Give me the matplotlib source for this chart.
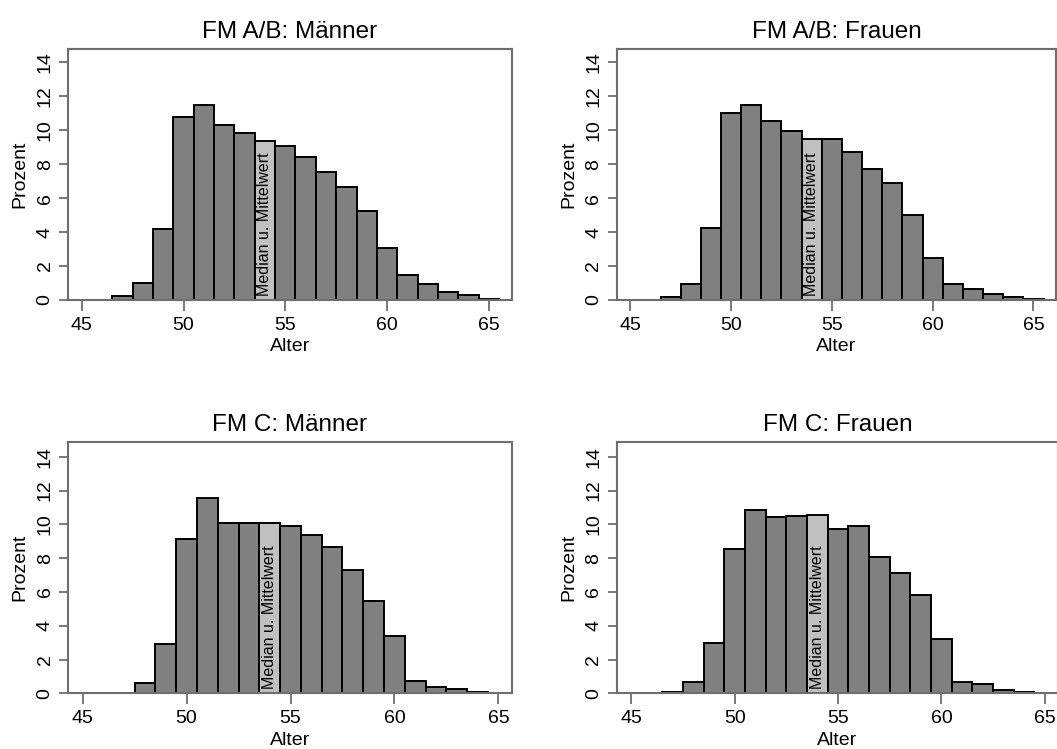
import numpy as np
import matplotlib
matplotlib.use('Agg')
import matplotlib.pyplot as plt

plt.rcParams['font.family'] = ['Liberation Sans', 'DejaVu Sans']

# Altersklassen (Balkenmitte) und Prozentwerte je Gruppe
alter_ab_m = list(range(47, 66))
prozent_ab_m = [0.24, 1.02, 4.16, 10.76, 11.5, 10.33, 9.86, 9.37, 9.09, 8.4,
                7.54, 6.66, 5.22, 3.08, 1.45, 0.94, 0.47, 0.27, 0.08]

alter_ab_f = list(range(47, 66))
prozent_ab_f = [0.2, 0.94, 4.24, 11.0, 11.5, 10.56, 9.97, 9.46, 9.46, 8.7,
                7.7, 6.87, 5.0, 2.49, 0.94, 0.65, 0.37, 0.2, 0.08]

alter_c_m = list(range(47, 65))
prozent_c_m = [0.04, 0.59, 2.9, 9.13, 11.58, 10.1, 10.1, 10.1, 9.92, 9.35,
               8.64, 7.28, 5.44, 3.39, 0.75, 0.39, 0.28, 0.1]

alter_c_f = list(range(47, 65))
prozent_c_f = [0.08, 0.65, 3.0, 8.54, 10.87, 10.41, 10.49, 10.57, 9.7, 9.9,
               8.05, 7.1, 5.8, 3.19, 0.65, 0.55, 0.18, 0.08]

median_klasse = 54  # hervorgehobene Klasse

titel = ['FM A/B: Männer', 'FM A/B: Frauen', 'FM C: Männer', 'FM C: Frauen']
daten = [(alter_ab_m, prozent_ab_m), (alter_ab_f, prozent_ab_f),
         (alter_c_m, prozent_c_m), (alter_c_f, prozent_c_f)]

W, H = 1057, 749
# Rahmen in Pixeln: links, rechts, oben, unten
boxen = [(68.3, 511.7, 49.3, 300.0), (617.0, 1056.0, 49.3, 300.0),
         (68.3, 511.7, 441.7, 693.3), (617.0, 1058.0, 441.7, 693.3)]
xlims = [(44.34, 66.12), (44.34, 66.12), (44.31, 65.64), (44.31, 65.64)]
ylims = [(0, 14.76), (0, 14.76), (0, 14.89), (0, 14.89)]

rahmenfarbe = '#6e6e6e'

fig = plt.figure(figsize=(W / 100, H / 100), dpi=100)

for i in range(4):
    l, r, t, b = boxen[i]
    ax = fig.add_axes([l / W, 1 - b / H, (r - l) / W, (b - t) / H])
    x, y = daten[i]
    farben = ['#c0c0c0' if a == median_klasse else '#808080' for a in x]
    ax.bar(x, y, width=1, color=farben, edgecolor='black', linewidth=1.4,
           zorder=2, clip_on=False)
    ax.text(median_klasse, 0.25, 'Median u. Mittelwert', rotation=90,
            ha='center', va='bottom', fontsize=11.5, zorder=3)

    ax.set_xlim(*xlims[i])
    ax.set_ylim(*ylims[i])
    ax.set_xticks([45, 50, 55, 60, 65])
    ax.set_yticks(np.arange(0, 15, 2))
    ax.set_yticklabels([str(v) for v in range(0, 15, 2)], rotation=90,
                       va='center')
    ax.tick_params(axis='both', colors=rahmenfarbe, labelcolor='black',
                   labelsize=14, width=1.3)
    ax.tick_params(axis='x', length=8, pad=4)
    ax.tick_params(axis='y', length=6.5, pad=4)
    for s in ax.spines.values():
        s.set_color(rahmenfarbe)
        s.set_linewidth(1.5)

    ax.set_title(titel[i], fontsize=17.5, pad=8)
    ax.set_xlabel('Alter', fontsize=14, va='center')
    ax.set_ylabel('Prozent', fontsize=14, va='center')
    ax.xaxis.set_label_coords(0.5, -47 / (b - t))
    ax.yaxis.set_label_coords(-48 / (r - l), 0.5)

fig.savefig('out.png', dpi=100)
